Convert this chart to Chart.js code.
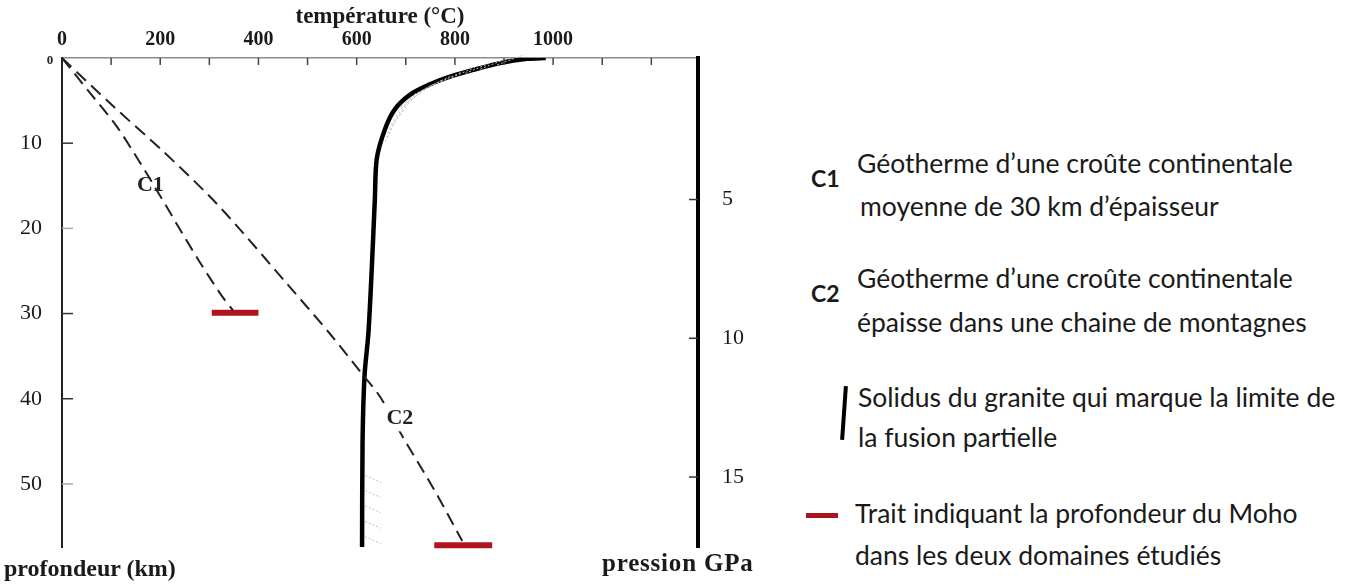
<!DOCTYPE html>
<html lang="fr">
<head>
<meta charset="utf-8">
<title>Géothermes et solidus du granite</title>
<script src="https://cdn.jsdelivr.net/npm/chart.js@4.4.0/dist/chart.umd.min.js"></script>
<style>
  html, body { margin: 0; padding: 0; background: #fff; }
  body { width: 1352px; height: 585px; position: relative; overflow: hidden; color: #1a1a1a;
         font-family: Lato, "Open Sans", sans-serif; }
  #wrap { position: absolute; left: 0; top: 0; width: 790px; height: 585px; }
  .lbl { position: absolute; white-space: nowrap; }
  .serif { font-family: "Liberation Serif", "DejaVu Serif", serif; font-weight: bold; font-size: 24px; line-height: 28px; }
  .leg { font-size: 26.5px; line-height: 30px; }
  .code { font-weight: bold; font-size: 23px; line-height: 28px; }
</style>
</head>
<body>
<div id="wrap"><canvas id="myChart"></canvas></div>

<div class="lbl serif" style="left:4px; top:554px;">profondeur (km)</div>
<div class="lbl serif" style="left:602px; top:549px; font-size:25px; letter-spacing:0.8px;">pression GPa</div>

<!-- legende -->
<div class="lbl code" style="left:811px; top:164px;">C1</div>
<div class="lbl leg" style="left:857px; top:148px;">Géotherme d’une croûte continentale</div>
<div class="lbl leg" style="left:860px; top:191px;">moyenne de 30 km d’épaisseur</div>

<div class="lbl code" style="left:811px; top:279px;">C2</div>
<div class="lbl leg" style="left:857px; top:263px;">Géotherme d’une croûte continentale</div>
<div class="lbl leg" style="left:857px; top:307px;">épaisse dans une chaine de montagnes</div>

<div class="lbl" style="left:842px; top:386px; width:4px; height:54px; background:#000; transform:rotate(4deg);"></div>
<div class="lbl leg" style="left:858px; top:382px;">Solidus du granite qui marque la limite de</div>
<div class="lbl leg" style="left:858px; top:422px;">la fusion partielle</div>

<div class="lbl" style="left:806px; top:513px; width:32px; height:5px; background:#a8141c;"></div>
<div class="lbl leg" style="left:855px; top:498px;">Trait indiquant la profondeur du Moho</div>
<div class="lbl leg" style="left:855px; top:540px;">dans les deux domaines étudiés</div>

<script>
// temperature (°C) / profondeur (km)
var c1Temp  = [0, 57, 111, 159, 200, 240, 281, 325, 348];
var c1Depth = [0, 4.1, 8.0, 12.3, 16.2, 20.1, 24.0, 27.9, 29.6];

var c2Temp  = [0, 105, 203, 300, 365, 458, 546, 614, 648, 692, 756, 815];
var c2Depth = [0, 5.7, 10.8, 16.2, 20.3, 26.5, 32.4, 37.3, 39.8, 44.3, 50.5, 56.7];

var solidusTemp  = [985, 947, 892, 837, 790, 749, 709, 678, 658, 641, 637, 631, 624, 616, 612, 611];
var solidusDepth = [0, 0.1, 0.6, 1.4, 2.2, 3.1, 4.3, 6.0, 8.3, 11.8, 16.6, 24.4, 32.2, 37.3, 45, 57.4];

// traits du Moho
var mohoC1Temp  = [305, 400];
var mohoC1Depth = [29.9, 29.9];
var mohoC2Temp  = [758, 876];
var mohoC2Depth = [57.2, 57.2];

// graduations
var tempTicks = [0, 100, 200, 300, 400, 500, 600, 700, 800, 900, 1000, 1100, 1200];
var tempLabels = [0, 200, 400, 600, 800, 1000];
var depthTicks = [0, 10, 20, 30, 40, 50];
var pressTicks = [5, 10, 15];

function toPoints(xs, ys) {
    return xs.map(function (v, i) { return { x: v, y: ys[i] }; });
}

function solidusAt(z) {
    for (var i = 1; i < solidusDepth.length; i++) {
        if (z <= solidusDepth[i]) {
            var f = (z - solidusDepth[i - 1]) / (solidusDepth[i] - solidusDepth[i - 1]);
            return solidusTemp[i - 1] + f * (solidusTemp[i] - solidusTemp[i - 1]);
        }
    }
    return solidusTemp[solidusTemp.length - 1];
}

// petits traits, hachures et etiquettes C1 / C2
var decor = {
    id: 'decor',
    afterDatasetsDraw: function (chart) {
        var ctx = chart.ctx;
        var sx = chart.scales.x, sy = chart.scales.y, sp = chart.scales.p;
        var area = chart.chartArea;
        ctx.save();

        // hachures (zone de fusion)
        ctx.strokeStyle = '#bdbdbd';
        ctx.lineWidth = 1;
        ctx.setLineDash([2, 2]);
        for (var z = 0.8; z < 10; z += 0.5) {
            var t = solidusAt(z);
            ctx.beginPath();
            ctx.moveTo(sx.getPixelForValue(t + 8), sy.getPixelForValue(z));
            ctx.lineTo(sx.getPixelForValue(t + 12 + 55 * (1 - z / 11)), sy.getPixelForValue(z - 1.2));
            ctx.stroke();
        }
        [49, 50.8, 52.6, 54.4, 56.2].forEach(function (d) {
            var t = solidusAt(d);
            ctx.beginPath();
            ctx.moveTo(sx.getPixelForValue(t + 6), sy.getPixelForValue(d));
            ctx.lineTo(sx.getPixelForValue(t + 38), sy.getPixelForValue(d + 0.8));
            ctx.stroke();
        });
        ctx.setLineDash([]);

        // graduations vers l'interieur
        ctx.strokeStyle = '#444';
        ctx.lineWidth = 1.5;
        tempTicks.forEach(function (t) {
            if (t === 0) return;
            var px = sx.getPixelForValue(t);
            ctx.beginPath(); ctx.moveTo(px, area.top); ctx.lineTo(px, area.top + 7); ctx.stroke();
        });
        depthTicks.forEach(function (d) {
            if (d === 0) return;
            var py = sy.getPixelForValue(d);
            ctx.strokeStyle = (d === 20 || d === 50) ? '#aaa' : '#333';
            ctx.beginPath(); ctx.moveTo(area.left, py); ctx.lineTo(area.left + 11, py); ctx.stroke();
        });
        ctx.strokeStyle = '#333';
        pressTicks.forEach(function (v) {
            var py = sp.getPixelForValue(v);
            ctx.beginPath(); ctx.moveTo(area.right - 9, py); ctx.lineTo(area.right, py); ctx.stroke();
        });

        // petit "0" du coin
        ctx.fillStyle = '#222';
        ctx.font = 'bold 13px "Liberation Serif", serif';
        ctx.textAlign = 'center';
        ctx.textBaseline = 'middle';
        ctx.fillText('0', area.left - 12, sy.getPixelForValue(0) + 3);

        // etiquettes des courbes
        ctx.font = 'bold 22px "Liberation Serif", serif';
        ctx.fillText('C1', sx.getPixelForValue(180), sy.getPixelForValue(15.0));
        var cx = sx.getPixelForValue(688), cy = sy.getPixelForValue(42.3);
        ctx.fillStyle = '#fff';
        ctx.fillRect(cx - 18, cy - 13, 36, 26);
        ctx.fillStyle = '#222';
        ctx.fillText('C2', cx, cy);

        ctx.restore();
    }
};

document.addEventListener('DOMContentLoaded', function () {
    createChart();
});

function createChart() {
    var ctx = document.getElementById('myChart').getContext('2d');
    var serif = '"Liberation Serif", "DejaVu Serif", serif';

    var myChart = new Chart(ctx, {
        type: 'scatter',
        data: {
            datasets: [
                {
                    label: 'C1',
                    data: toPoints(c1Temp, c1Depth),
                    showLine: true,
                    borderColor: '#222',
                    borderWidth: 2,
                    borderDash: [13, 7],
                    tension: 0.3,
                    pointRadius: 0,
                    xAxisID: 'x', yAxisID: 'y'
                },
                {
                    label: 'C2',
                    data: toPoints(c2Temp, c2Depth),
                    showLine: true,
                    borderColor: '#222',
                    borderWidth: 2,
                    borderDash: [13, 7],
                    tension: 0.3,
                    pointRadius: 0,
                    xAxisID: 'x', yAxisID: 'y'
                },
                {
                    label: 'Solidus du granite',
                    data: toPoints(solidusTemp, solidusDepth),
                    showLine: true,
                    borderColor: '#000',
                    borderWidth: 4.5,
                    tension: 0.3,
                    pointRadius: 0,
                    xAxisID: 'x', yAxisID: 'y'
                },
                {
                    label: 'Moho C1',
                    data: toPoints(mohoC1Temp, mohoC1Depth),
                    showLine: true,
                    borderColor: '#b0141c',
                    borderWidth: 6,
                    borderCapStyle: 'butt',
                    pointRadius: 0,
                    xAxisID: 'x', yAxisID: 'y'
                },
                {
                    label: 'Moho C2',
                    data: toPoints(mohoC2Temp, mohoC2Depth),
                    showLine: true,
                    borderColor: '#b0141c',
                    borderWidth: 6,
                    borderCapStyle: 'butt',
                    pointRadius: 0,
                    clip: 10,
                    xAxisID: 'x', yAxisID: 'y'
                }
            ]
        },
        options: {
            responsive: true,
            maintainAspectRatio: false,
            animation: false,
            layout: { padding: { left: 0, right: 0, top: 0, bottom: 36 } },
            plugins: {
                legend: { display: false },
                tooltip: { enabled: false }
            },
            scales: {
                x: {
                    type: 'linear',
                    position: 'top',
                    min: 0,
                    max: 1295,
                    afterFit: function (s) { s.height = 58; },
                    afterBuildTicks: function (s) {
                        s.ticks = tempLabels.map(function (v) { return { value: v }; });
                    },
                    grid: { display: false, drawTicks: false },
                    border: { display: true, color: '#8c8c8c', width: 1.5 },
                    ticks: {
                        padding: 6,
                        color: '#1a1a1a',
                        maxRotation: 0,
                        autoSkip: false,
                        font: { family: serif, size: 20, weight: 'bold' },
                        callback: function (v) { return String(v); }
                    },
                    title: {
                        display: true,
                        text: 'température (°C)',
                        color: '#1a1a1a',
                        padding: { top: 3, bottom: 0 },
                        font: { family: serif, size: 23, weight: 'bold' }
                    }
                },
                y: {
                    type: 'linear',
                    position: 'left',
                    reverse: true,
                    min: 0,
                    max: 57.5,
                    afterFit: function (s) { s.width = 62; },
                    afterBuildTicks: function (s) {
                        s.ticks = depthTicks.map(function (v) { return { value: v }; });
                    },
                    grid: { display: false, drawTicks: false },
                    border: { display: true, color: '#222', width: 2 },
                    ticks: {
                        padding: 20,
                        color: '#1a1a1a',
                        autoSkip: false,
                        font: { family: serif, size: 22 },
                        callback: function (v) { return v === 0 ? '' : String(v); }
                    }
                },
                p: {
                    type: 'linear',
                    position: 'right',
                    reverse: true,
                    min: -0.1,
                    max: 17.55,
                    afterFit: function (s) { s.width = 92; },
                    afterBuildTicks: function (s) {
                        s.ticks = pressTicks.map(function (v) { return { value: v }; });
                    },
                    grid: { display: false, drawTicks: false },
                    border: { display: true, color: '#000', width: 4 },
                    ticks: {
                        padding: 24,
                        color: '#1a1a1a',
                        autoSkip: false,
                        font: { family: serif, size: 22 },
                        callback: function (v) { return String(v); }
                    }
                }
            }
        },
        plugins: [decor]
    });
}
</script>
</body>
</html>
